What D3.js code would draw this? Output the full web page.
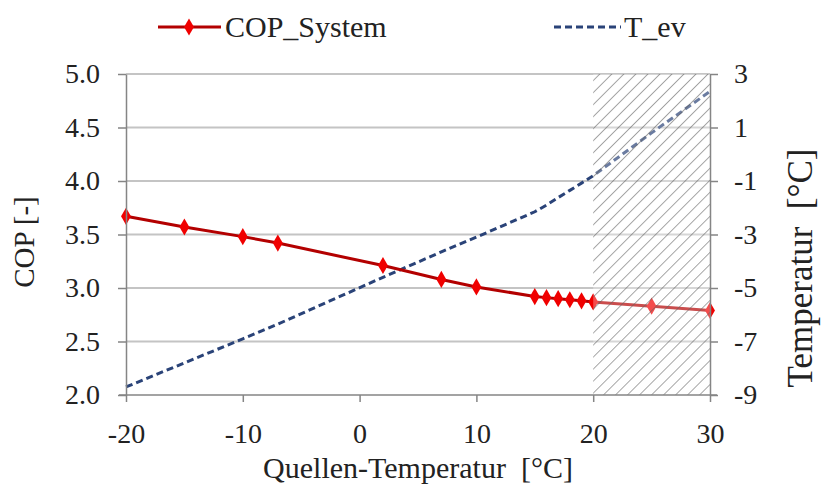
<!DOCTYPE html>
<html>
<head>
<meta charset="utf-8">
<script src="https://cdn.jsdelivr.net/npm/d3@7"></script>
<style>
  html, body { margin: 0; padding: 0; background: #fff; }
  svg { display: block; font-family: "Liberation Serif", "Times New Roman", serif; }
</style>
</head>
<body>
<svg id="chart" width="823" height="488"></svg>
<script>
// Source temperature (°C) at each operating point
const sourceTemp = [-20, -15, -10, -7, 2, 7, 10, 15, 16, 17, 18, 19, 20, 25, 30];
// System COP at each operating point
const copSystem = [3.67, 3.57, 3.48, 3.42, 3.21, 3.08, 3.01, 2.92, 2.91, 2.90, 2.89, 2.88, 2.87, 2.83, 2.79];
// Evaporation temperature (°C)
const tEv = [-8.70, -7.80, -6.90, -6.35, -4.60, -3.65, -3.10, -2.15, -1.90, -1.62, -1.35, -1.08, -0.80, 0.80, 2.35];

const xTicks = [-20, -10, 0, 10, 20, 30];
const copTicks = [2.0, 2.5, 3.0, 3.5, 4.0, 4.5, 5.0];
const tempTicks = [-9, -7, -5, -3, -1, 1, 3];
// Shaded range of source temperatures
const shadedRange = [20, 30];

const svg = d3.select("#chart");
const plotL = 126, plotR = 710, plotT = 74, plotB = 395;
const serif = "'Liberation Serif', 'Times New Roman', serif";

const x = d3.scaleLinear().domain([-20, 30]).range([plotL, plotR]);
const yCop = d3.scaleLinear().domain([2, 5]).range([plotB, plotT]);
const yT = d3.scaleLinear().domain([-9, 3]).range([plotB, plotT]);

// hatch pattern
const defs = svg.append("defs");
defs.append("pattern")
  .attr("id", "hatch")
  .attr("patternUnits", "userSpaceOnUse")
  .attr("width", 8.5).attr("height", 8.5)
  .attr("patternTransform", "rotate(45)")
  .append("line")
  .attr("x1", 0).attr("y1", 0).attr("x2", 0).attr("y2", 8.5)
  .attr("stroke", "#5e5e5e").attr("stroke-width", 1.1);

// gridlines
svg.append("g")
  .selectAll("line")
  .data(copTicks.filter(d => d > 2))
  .join("line")
  .attr("x1", plotL).attr("x2", plotR)
  .attr("y1", d => yCop(d)).attr("y2", d => yCop(d))
  .attr("stroke", "#c4c4c4").attr("stroke-width", 2);

// T_ev line
const lineT = d3.line().x((d, i) => x(sourceTemp[i])).y(d => yT(d));
svg.append("path")
  .datum(tEv)
  .attr("d", lineT)
  .attr("fill", "none")
  .attr("stroke", "#2a4378")
  .attr("stroke-width", 3)
  .attr("stroke-dasharray", "7,4");

// COP line
const lineC = d3.line().x((d, i) => x(sourceTemp[i])).y(d => yCop(d));
svg.append("path")
  .datum(copSystem)
  .attr("d", lineC)
  .attr("fill", "none")
  .attr("stroke", "#b30000")
  .attr("stroke-width", 3);

const diamond = d3.symbol().type(d3.symbolDiamond).size(85);
svg.append("g")
  .selectAll("path")
  .data(copSystem)
  .join("path")
  .attr("transform", (d, i) => `translate(${x(sourceTemp[i])},${yCop(d)})`)
  .attr("d", diamond)
  .attr("fill", "#f00000");

// shaded range overlay
svg.append("rect")
  .attr("x", x(shadedRange[0])).attr("y", plotT)
  .attr("width", x(shadedRange[1]) - x(shadedRange[0]))
  .attr("height", plotB - plotT)
  .attr("fill", "rgba(255,255,255,0.3)");
svg.append("rect")
  .attr("x", x(shadedRange[0])).attr("y", plotT)
  .attr("width", x(shadedRange[1]) - x(shadedRange[0]))
  .attr("height", plotB - plotT)
  .attr("fill", "url(#hatch)");

// axes
const axisColor = "#858585";
const hyphen = d => String(d).replace("\u2212", "-");
function styleAxis(g) {
  g.attr("font-family", serif).attr("font-size", 28);
  g.select(".domain").attr("stroke", axisColor).attr("stroke-width", 1.5);
  g.selectAll(".tick line").attr("stroke", axisColor).attr("stroke-width", 1.5);
  g.selectAll(".tick text").attr("fill", "#222");
}

svg.append("g")
  .attr("transform", `translate(0,${plotB})`)
  .call(d3.axisBottom(x).tickValues(xTicks).tickFormat(hyphen).tickSize(7).tickSizeOuter(0).tickPadding(21))
  .call(styleAxis)
  .call(g => g.select(".domain").attr("d", `M${plotL - 7},0H${plotR + 7}`));

svg.append("g")
  .attr("transform", `translate(${plotL},0)`)
  .call(d3.axisLeft(yCop).tickValues(copTicks).tickFormat(d3.format(".1f")).tickSize(8).tickSizeOuter(0).tickPadding(18))
  .call(styleAxis);

svg.append("g")
  .attr("transform", `translate(${plotR},0)`)
  .call(d3.axisRight(yT).tickValues(tempTicks).tickFormat(hyphen).tickSize(8).tickSizeOuter(0).tickPadding(16))
  .call(styleAxis);

// axis titles
svg.append("text")
  .attr("x", 418).attr("y", 478)
  .attr("text-anchor", "middle")
  .attr("font-size", 30).attr("fill", "#222")
  .attr("xml:space", "preserve")
  .text("Quellen-Temperatur  [°C]");

svg.append("text")
  .attr("transform", "translate(34,242) rotate(-90)")
  .attr("text-anchor", "middle")
  .attr("font-size", 29).attr("fill", "#222")
  .text("COP [-]");

svg.append("text")
  .attr("transform", "translate(812,268) rotate(-90)")
  .attr("text-anchor", "middle")
  .attr("font-size", 35).attr("fill", "#222")
  .attr("xml:space", "preserve")
  .text("Temperatur  [°C]");

// legend
const legend = svg.append("g");
legend.append("line")
  .attr("x1", 158).attr("x2", 221).attr("y1", 27).attr("y2", 27)
  .attr("stroke", "#b30000").attr("stroke-width", 3);
legend.append("path")
  .attr("transform", "translate(189,27)")
  .attr("d", diamond)
  .attr("fill", "#f00000");
legend.append("text")
  .attr("x", 225).attr("y", 37)
  .attr("font-size", 30).attr("fill", "#222")
  .text("COP_System");

legend.append("line")
  .attr("x1", 554).attr("x2", 621).attr("y1", 27).attr("y2", 27)
  .attr("stroke", "#2a4378").attr("stroke-width", 3)
  .attr("stroke-dasharray", "7,4");
legend.append("text")
  .attr("x", 624).attr("y", 37)
  .attr("font-size", 30).attr("fill", "#222")
  .text("T_ev");
</script>
</body>
</html>
